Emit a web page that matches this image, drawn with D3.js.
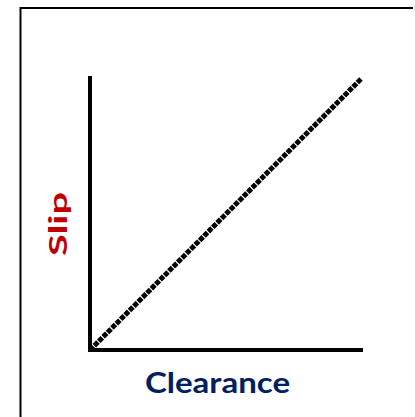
<!DOCTYPE html>
<html>
<head>
<meta charset="utf-8">
<script src="https://cdn.jsdelivr.net/npm/d3@7"></script>
<style>
  html, body { margin: 0; padding: 0; background: #fff; }
  svg { display: block; }
</style>
</head>
<body>
<svg id="chart" width="415" height="417"></svg>
<script>
// Axis labels
const xLabel = "Clearance";
const yLabel = "Slip";
// Relationship: slip grows in proportion to clearance
const clearance = [0, 1];
const slip = [0, 1];

const svg = d3.select("#chart");
const H = 417;

// frame: top and left edges only
svg.append("line").attr("x1", 20).attr("x2", 413).attr("y1", 8).attr("y2", 8)
  .attr("stroke", "#000").attr("stroke-width", 2);
svg.append("line").attr("x1", 20.5).attr("x2", 20.5).attr("y1", 7).attr("y2", H)
  .attr("stroke", "#000").attr("stroke-width", 2);

const x = d3.scaleLinear().domain([0, 1]).range([90, 361]);
const y = d3.scaleLinear().domain([0, 1]).range([350, 79]);

// axes drawn as plain heavy lines, no ticks
const xAxis = d3.axisBottom(x).tickValues([]).tickSizeOuter(0);
const yAxis = d3.axisLeft(y).tickValues([]).tickSizeOuter(0);

svg.append("g").attr("transform", `translate(0,${y(0)})`).call(xAxis)
  .call(g => g.select(".domain").attr("stroke", "#000").attr("stroke-width", 4)
    .attr("d", `M${x(0) - 2},0H${x(1) + 2}`));
svg.append("g").attr("transform", `translate(${x(0)},0)`).call(yAxis)
  .call(g => g.select(".domain").attr("stroke", "#000").attr("stroke-width", 4)
    .attr("d", `M0,${y(0) + 2}V${y(1) - 3}`));

// dashed diagonal
const pts = clearance.map((c, i) => [c, slip[i]]);
svg.append("path")
  .datum(pts)
  .attr("fill", "none")
  .attr("stroke", "#000")
  .attr("stroke-width", 5)
  .attr("stroke-dasharray", "5,1.2")
  .attr("d", d3.line().x(d => x(d[0])).y(d => y(d[1])));

svg.append("text")
  .attr("x", 145).attr("y", 393)
  .attr("textLength", 145)
  .attr("lengthAdjust", "spacingAndGlyphs")
  .attr("font-family", "Lato, 'Open Sans', sans-serif")
  .attr("font-weight", "bold")
  .attr("font-size", 29)
  .attr("fill", "#002060")
  .text(xLabel);

svg.append("text")
  .attr("transform", "translate(67,256) rotate(-90)")
  .attr("textLength", 64)
  .attr("lengthAdjust", "spacingAndGlyphs")
  .attr("font-family", "Lato, 'Open Sans', sans-serif")
  .attr("font-weight", "bold")
  .attr("font-size", 25)
  .attr("fill", "#C00000")
  .text(yLabel);
</script>
</body>
</html>
